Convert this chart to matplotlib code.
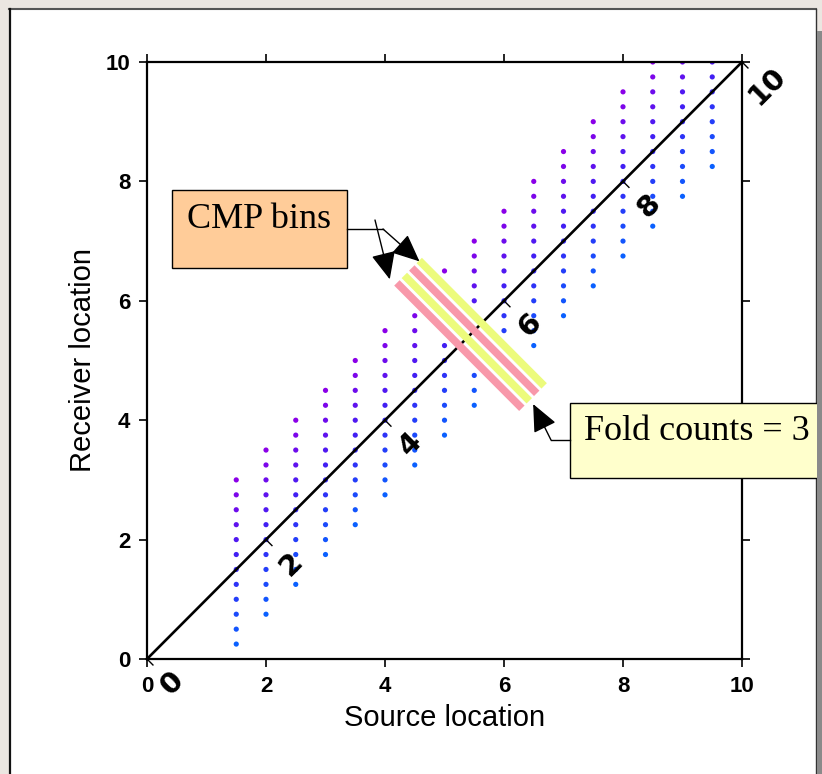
import numpy as np
import matplotlib.pyplot as plt
from matplotlib.colors import LinearSegmentedColormap
from matplotlib.patches import Rectangle
from matplotlib.lines import Line2D
from matplotlib.transforms import Affine2D

# source positions and receiver offsets of the spread
sources = [1.5, 2.0, 2.5, 3.0, 3.5, 4.0, 4.5, 5.0, 5.5, 6.0, 6.5, 7.0, 7.5, 8.0, 8.5, 9.0, 9.5]
offsets = [-1.25, -1.0, -0.75, -0.5, -0.25, 0.0, 0.25, 0.5, 0.75, 1.0, 1.25, 1.5]

# midpoint labels along the zero-offset line
diag_ticks = [0, 2, 4, 6, 8, 10]
diag_labels = ["0", "2", "4", "6", "8", "10"]

# CMP bin stripes (centre on the diagonal) and their colours
bin_centres = [5.25, 5.375, 5.5, 5.625]
bin_colors = ["#f898aa", "#ecfb7c", "#f898aa", "#ecfb7c"]
bin_half = 1.05

W, H = 822, 774


def main() -> None:
    fig = plt.figure(figsize=(W / 100, H / 100), dpi=100, facecolor="#ebe6e1")
    # pixel coordinates measured from the top-left corner
    pix = Affine2D().scale(1 / W, -1 / H).translate(0, 1) + fig.transFigure

    # white page with its edges
    fig.patches.append(Rectangle((9, 9), 807, 770, transform=pix, facecolor="white",
                                 edgecolor="none", zorder=-10))
    fig.lines.append(Line2D([9, 816], [9, 9], transform=pix, color="#555555", lw=1.5, zorder=-9))
    fig.lines.append(Line2D([9.5, 9.5], [9, 774], transform=pix, color="#111111", lw=1.6, zorder=-9))
    fig.lines.append(Line2D([816, 816], [9, 774], transform=pix, color="#333333", lw=1.0, zorder=-9))
    fig.patches.append(Rectangle((817, 31), 6, 743, transform=pix, facecolor="#8a8a8a",
                                 edgecolor="none", zorder=8))

    ax = fig.add_axes([147 / W, 1 - 659 / H, 595 / W, 597 / H])

    # receiver dots, coloured by offset
    cmap = LinearSegmentedColormap.from_list("offs", ["#0a60ff", "#3a22f4", "#8a00e8"])
    src, off = np.meshgrid(sources, offsets)
    rec = src + off
    keep = rec <= 10
    ax.scatter(src[keep], rec[keep], c=off[keep], cmap=cmap, s=14, linewidths=0, zorder=2)

    # zero-offset line with its midpoint ticks and labels
    ax.plot([diag_ticks[0], diag_ticks[-1]], [diag_ticks[0], diag_ticks[-1]], color="black",
            lw=1.9, zorder=3, clip_on=False)
    for t, lab in zip(diag_ticks, diag_labels):
        ax.plot([t, t + 0.1], [t, t - 0.1], color="black", lw=1.0, zorder=3, clip_on=False)
        ax.text(t + 0.43, t - 0.41, lab, rotation=45, ha="center", va="center",
                fontsize=21, fontweight="bold", family="DejaVu Sans", clip_on=False)

    # CMP bin stripes
    for c, col in zip(bin_centres, bin_colors):
        ax.plot([c - bin_half, c + bin_half], [c + bin_half, c - bin_half], color=col,
                lw=5.5, solid_capstyle="butt", zorder=4)

    ax.set_xlim(0, 10)
    ax.set_ylim(0, 10)
    ax.set_xticks([0, 2, 4, 6, 8, 10])
    ax.set_yticks([0, 2, 4, 6, 8, 10])
    ax.tick_params(direction="out", length=6, width=1.2, top=True, right=True,
                   labelsize=16, pad=6)
    for lab in ax.get_xticklabels() + ax.get_yticklabels():
        lab.set_fontweight("bold")
        lab.set_family("Liberation Sans")
    for sp in ax.spines.values():
        sp.set_linewidth(1.6)
    ax.set_xlabel("Source location", fontsize=21, family="Liberation Sans", labelpad=5)
    ax.set_ylabel("Receiver location", fontsize=21, family="Liberation Sans", labelpad=6)

    # callout boxes
    fig.patches.append(Rectangle((172, 190), 175, 78, transform=pix, facecolor="#ffcc99",
                                 edgecolor="black", lw=1.0, zorder=5))
    fig.text(259, 220, "CMP bins", transform=pix, ha="center", va="center", fontsize=26,
             family="Liberation Serif", zorder=6)
    fig.patches.append(Rectangle((570, 403), 252, 75, transform=pix, facecolor="#ffffcc",
                                 edgecolor="black", lw=1.0, zorder=5))
    fig.text(697, 431, "Fold counts = 3", transform=pix, ha="center", va="center", fontsize=26,
             family="Liberation Serif", zorder=6)

    # leader lines
    arrow = dict(arrowstyle="-|>,head_length=0.9,head_width=0.4", color="black", lw=1.0,
                 mutation_scale=19, shrinkA=0, shrinkB=0)
    fig.lines.append(Line2D([347, 383], [229, 229], transform=pix, color="black", lw=1.0, zorder=6))
    ax.annotate("", xy=(4.58, 6.66), xycoords="data", xytext=(383, 229), textcoords=pix,
                arrowprops=arrow, annotation_clip=False, zorder=6)
    ax.annotate("", xy=(4.08, 6.36), xycoords="data", xytext=(375, 220), textcoords=pix,
                arrowprops=arrow, annotation_clip=False, zorder=6)
    fig.lines.append(Line2D([551, 570], [440, 440], transform=pix, color="black", lw=1.0, zorder=6))
    ax.annotate("", xy=(6.49, 4.27), xycoords="data", xytext=(551, 440), textcoords=pix,
                arrowprops=arrow, annotation_clip=False, zorder=6)

    fig.savefig("out.png", dpi=100, facecolor=fig.get_facecolor())


if __name__ == "__main__":
    main()
